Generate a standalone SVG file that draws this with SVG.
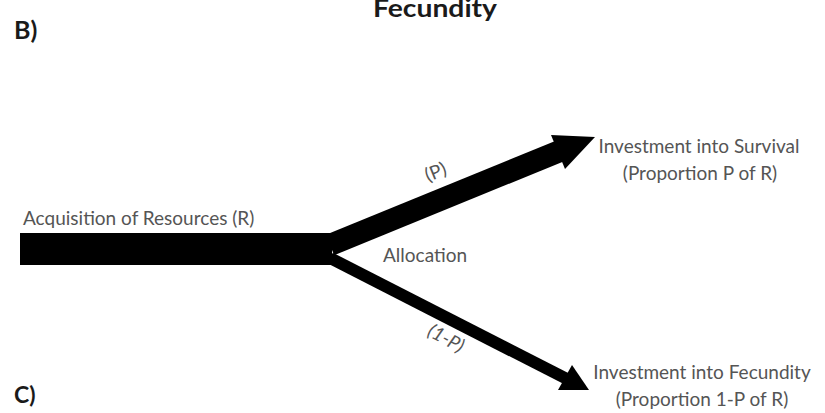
<svg xmlns="http://www.w3.org/2000/svg" width="825" height="413" viewBox="0 0 825 413">
<style>
.lbl{font-family:Lato,"Open Sans","Liberation Sans",sans-serif;font-size:19px;fill:#555}
.hd{font-family:Lato,"Open Sans","Liberation Sans",sans-serif;font-weight:bold;fill:#1a1a1a}
.shape{fill:#000}
</style>
<rect width="825" height="413" fill="#fff"/>
<text class="hd" x="14" y="39" font-size="25">B)</text>
<text class="hd" x="435" y="17" font-size="24" text-anchor="middle" textLength="124" lengthAdjust="spacingAndGlyphs">Fecundity</text>
<text class="hd" x="14" y="403" font-size="23">C)</text>
<g id="connectors">
<g id="input-bar"><rect class="shape" x="20" y="233" width="312" height="32"/></g>
<g id="survival-branch">
<line x1="330" y1="245" x2="560" y2="151" stroke="#000" stroke-width="22"/>
<polygon class="shape" points="595,137 551,135 565,169"/>
</g>
<g id="fecundity-branch">
<line x1="330" y1="258" x2="567" y2="379" stroke="#000" stroke-width="12"/>
<polygon class="shape" points="589,390 558,390 572,365"/>
</g>
</g>
<g id="acquisition"><text class="lbl" x="23" y="225">Acquisition of Resources (R)</text></g>
<g id="allocation"><text class="lbl" x="383" y="262">Allocation</text></g>
<g id="p-label"><text class="lbl" font-size="16" transform="translate(438,178) rotate(-22)" text-anchor="middle">(P)</text></g>
<g id="one-minus-p-label"><text class="lbl" font-size="16" font-style="italic" transform="translate(443,344) rotate(28)" text-anchor="middle">(1-P)</text></g>
<g id="survival"><text class="lbl" text-anchor="middle"><tspan x="699" y="153">Investment into Survival</tspan><tspan x="700" y="180">(Proportion P of R)</tspan></text></g>
<g id="fecundity"><text class="lbl" text-anchor="middle"><tspan x="702" y="379">Investment into Fecundity</tspan><tspan x="702" y="406">(Proportion 1-P of R)</tspan></text></g>
</svg>
